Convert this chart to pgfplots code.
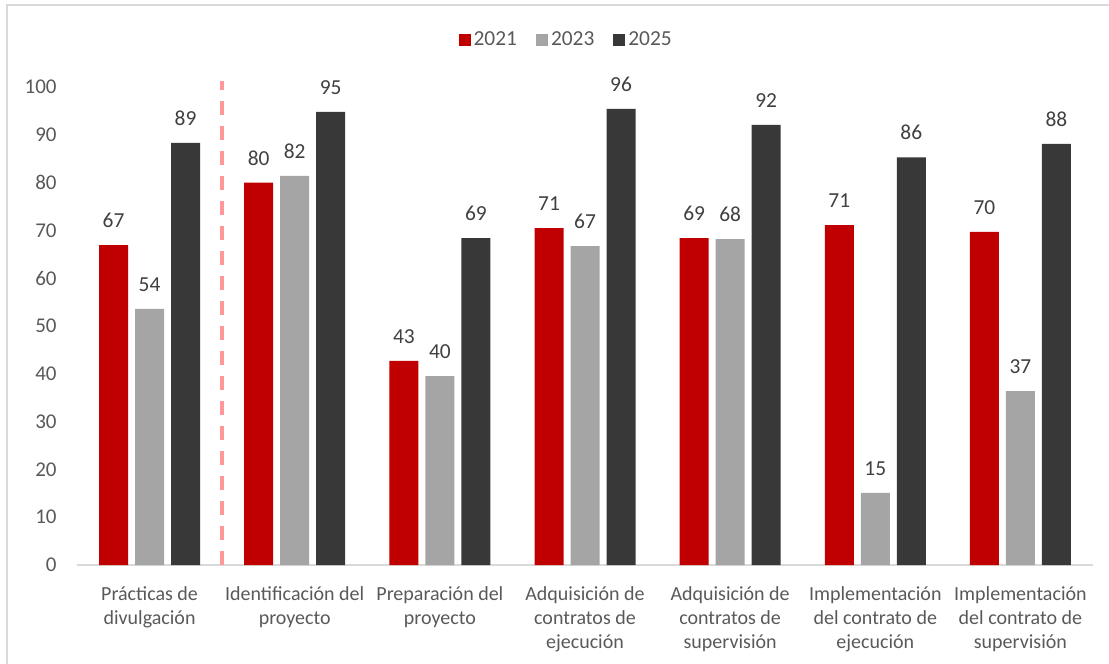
\documentclass[border=0pt]{standalone}
\usepackage{pgfplots}
\pgfplotsset{compat=1.18}
\usepackage{fontspec}
\setmainfont{Carlito}
\definecolor{cred}{HTML}{C00000}
\definecolor{cgrey}{HTML}{A5A5A5}
\definecolor{cdark}{HTML}{383838}
\definecolor{ctick}{HTML}{595959}
\definecolor{clab}{HTML}{404040}
\definecolor{caxis}{HTML}{D9D9D9}
\definecolor{cdash}{HTML}{FF9999}
\definecolor{cframe}{HTML}{D9D9D9}
\begin{document}
\begin{tikzpicture}
\useasboundingbox (0pt,0pt) rectangle (554.5pt,-332pt);
\draw[cframe, line width=1pt] (3.5pt,-332pt) -- (3.5pt,-2.5pt) -- (554.5pt,-2.5pt);
\begin{axis}[
  at={(38.5pt,-282.5pt)}, anchor=south west,
  scale only axis, width=508pt, height=239pt,
  ybar=3.5pt, bar width=14.5pt,
  xmin=-0.5, xmax=6.5, ymin=0, ymax=100,
  clip=false,
  axis lines=left,
  axis line style={-},
  y axis line style={draw=none},
  x axis line style={draw=caxis, line width=0.9pt},
  major tick length=0pt,
  ytick={0,10,...,100},
  xtick={0,1,2,3,4,5,6},
  xticklabels={{Prácticas de\\divulgación},{Identificación del\\proyecto},{Preparación del\\proyecto},{Adquisición de\\contratos de\\ejecución},{Adquisición de\\contratos de\\supervisión},{Implementación\\del contrato de\\ejecución},{Implementación\\del contrato de\\supervisión}},
  xticklabel style={align=center, font=\fontsize{10}{12}\selectfont, text=ctick, inner sep=0pt, anchor=north, yshift=-10.5pt},
  yticklabel style={font=\fontsize{10.5}{12}\selectfont, text=ctick, inner sep=0pt, anchor=east, xshift=-10pt},
  /pgf/number format/assume math mode=true,
  point meta=explicit symbolic,
  nodes near coords={\pgfplotspointmeta},
  nodes near coords style={font=\fontsize{10.7}{12}\selectfont, text=clab, anchor=south, inner sep=0pt, yshift=8.5pt},
  legend style={at={(0.482,1.098)}, anchor=center, draw=none, fill=none,
    font=\fontsize{10.7}{12}\selectfont, text=ctick, legend columns=-1,
    /tikz/every even column/.append style={column sep=8pt},
    nodes={inner sep=1.5pt}},
  legend image code/.code={\fill[#1] (0pt,-3pt) rectangle (6pt,3pt);},
]
\addplot[fill=cred, draw=none] coordinates {(0,66.9) [67] (1,80.0) [80] (2,42.7) [43] (3,70.5) [71] (4,68.4) [69] (5,71.1) [71] (6,69.7) [70]};
\addplot[fill=cgrey, draw=none] coordinates {(0,53.6) [54] (1,81.4) [82] (2,39.5) [40] (3,66.7) [67] (4,68.2) [68] (5,15.1) [15] (6,36.4) [37]};
\addplot[fill=cdark, draw=none] coordinates {(0,88.3) [89] (1,94.8) [95] (2,68.4) [69] (3,95.4) [96] (4,92.1) [92] (5,85.3) [86] (6,88.1) [88]};
\legend{2021,2023,2025}
\draw[cdash, line width=2pt, dash pattern=on 7pt off 5.5pt] (axis cs:0.5,0) -- (axis cs:0.5,101.3);
\end{axis}
\end{tikzpicture}
\end{document}
